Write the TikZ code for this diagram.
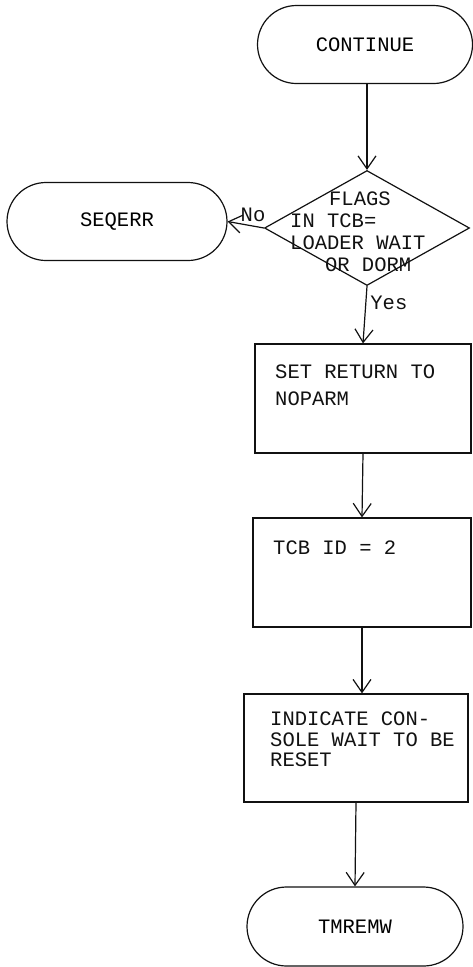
\documentclass[tikz,border=0pt]{standalone}
\usepackage{fontspec}
\setmonofont{Liberation Mono}
\usetikzlibrary{arrows.meta, positioning, shapes.geometric, shapes.misc}
\definecolor{ink}{HTML}{111111}
\tikzset{
  terminal/.style={
    draw=ink, rounded rectangle, line width=1.2pt, inner sep=0pt,
    minimum width=215pt, minimum height=78pt, align=center,
    font=\ttfamily\fontsize{20.5}{22}\selectfont
  },
  decision/.style={
    draw=ink, diamond, line width=1.2pt, inner sep=0pt,
    minimum width=205pt, minimum height=115pt
  },
  procbox/.style={
    draw=ink, rectangle, line width=1.2pt, inner sep=0pt,
    minimum width=218pt, minimum height=109pt
  },
  flowtext/.style={
    inner sep=0pt, align=left, text=ink,
    font=\ttfamily\fontsize{20.5}{#1}\selectfont
  },
  flowtext/.default=21.7,
  flow-edge/.style={-{Straight Barb[length=13pt, width=18pt]}, line width=1.2pt, draw=ink},
  lbl/.style={text=ink, inner sep=4pt, font=\ttfamily\fontsize{20.5}{22}\selectfont}
}

\begin{document}
\begin{tikzpicture}[x=1pt, y=-1pt]
  \useasboundingbox (0,0) rectangle (472,967);

  % ---- Entry ---------------------------------------------------------------
  \node[terminal] (continue) at (365,44.5) {CONTINUE};

  % ---- Flag test -----------------------------------------------------------
  \node[decision] (flags) at (367,228) {};
  \node[flowtext, anchor=north west] (flags-txt) at (290,192)
    {\hspace*{1.9em}FLAGS\\IN TCB=\\LOADER WAIT\\\hspace*{1.7em}OR DORM};

  % ---- Error exit ----------------------------------------------------------
  \node[terminal, minimum width=220pt] (seqerr) at (117,221.5) {SEQERR};

  % ---- Processing steps ----------------------------------------------------
  \node[procbox, minimum width=216pt] (setret) at (363,398.5) {};
  \node[flowtext=27, anchor=north west] (setret-txt) at (275,365)
    {SET RETURN TO\\NOPARM};

  \node[procbox] (tcbid) at (362,572.5) {};
  \node[flowtext, anchor=north west] (tcbid-txt) at (273,541) {TCB ID = 2};

  \node[procbox, minimum width=224pt, minimum height=108pt] (indicate) at (356,748) {};
  \node[flowtext=20.5, anchor=north west] (indicate-txt) at (270,712)
    {INDICATE CON-\\SOLE WAIT TO BE\\RESET};

  % ---- Exit ----------------------------------------------------------------
  \node[terminal, minimum width=216pt, minimum height=79pt] (tmremw) at (355,926.5) {TMREMW};

  % ---- Connectors ----------------------------------------------------------
  \draw[flow-edge] (flags.north |- continue.south) -- (flags.north);
  \draw[flow-edge] (flags.west) -- node[lbl, above, pos=0.3] {No} (seqerr.east);
  \draw[flow-edge] (flags.south) -- node[lbl, right, pos=0.3] {Yes} (setret.north);
  \draw[flow-edge] (setret.south) -- (tcbid.north);
  \draw[flow-edge] (tcbid.south) -- (tcbid.south |- indicate.north);
  \draw[flow-edge] (indicate.south) -- (tmremw.north);

\end{tikzpicture}
\end{document}
